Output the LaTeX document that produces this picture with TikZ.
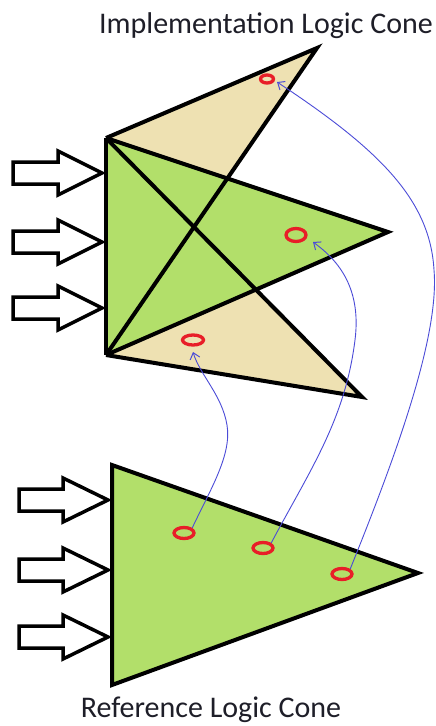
\documentclass[tikz,border=0pt]{standalone}
\usepackage{fontspec}
\setmainfont{Carlito}
\usetikzlibrary{shapes.geometric,arrows.meta}
\definecolor{conegreen}{RGB}{178,223,106}
\definecolor{conetan}{RGB}{238,225,178}
\definecolor{ringred}{RGB}{232,30,40}
\definecolor{linkblue}{RGB}{75,75,215}
\definecolor{textdark}{RGB}{30,30,40}
\tikzset{
  edge/.style={line width=4pt,draw=black,line join=miter},
  inarrow/.style={line width=3.5pt,draw=black,fill=white,line join=miter},
  ring/.style={ellipse,draw=ringred,line width=3.3pt,inner sep=0pt,minimum width=20pt,minimum height=11pt},
  link/.style={draw=linkblue,line width=0.9pt,-{Straight Barb[length=6pt,width=10pt,line width=1pt]}},
  title/.style={font=\fontsize{30}{35}\selectfont,text=textdark,anchor=base,inner sep=0pt}
}
\newcommand{\blockarrow}[4]{% x0, xhead, xtip, yc
  \draw[inarrow] (#1,#4-11) -- (#2,#4-11) -- (#2,#4-22) -- (#3,#4) -- (#2,#4+22) -- (#2,#4+11) -- (#1,#4+11) -- cycle;}
\begin{document}
\begin{tikzpicture}[x=1pt,y=-1pt]
\useasboundingbox (0,0) rectangle (436,726);
% upper cones
\coordinate (tl) at (106,138);
\coordinate (bl) at (106,355);
\coordinate (ta) at (317,48);
\coordinate (ga) at (388,232);
\coordinate (la) at (362,397);
\fill[conetan] (tl) -- (ta) -- (bl) -- cycle;
\fill[conetan] (tl) -- (la) -- (bl) -- cycle;
\fill[conegreen] (tl) -- (ga) -- (bl) -- cycle;
\draw[edge] (tl) -- (ta) -- (bl);
\draw[edge] (tl) -- (la) -- (bl);
\draw[edge] (tl) -- (ga) -- (bl);
\draw[edge] (tl) -- (bl);
% lower cone
\coordinate (rt) at (112,465);
\coordinate (rb) at (112,685);
\coordinate (ra) at (418,573);
\filldraw[edge,fill=conegreen] (rt) -- (ra) -- (rb) -- cycle;
% input arrows
\blockarrow{13}{58}{102}{173}
\blockarrow{13}{58}{102}{242}
\blockarrow{13}{58}{102}{308}
\blockarrow{19}{63}{108}{500}
\blockarrow{19}{63}{108}{570}
\blockarrow{19}{63}{108}{637}
% rings
\node[ring,minimum width=13pt,minimum height=8pt] (u1) at (267,79) {};
\node[ring,minimum height=13pt] (u2) at (296,235) {};
\node[ring,minimum width=21pt,minimum height=10pt] (u3) at (193,340) {};
\node[ring] (b1) at (184,533) {};
\node[ring] (b2) at (263,548) {};
\node[ring] (b3) at (342,574) {};
% arrow tips near upper rings
\coordinate (t1) at (277,82);
\coordinate (t2) at (313,242);
\coordinate (t3) at (193,352);
% links
\draw[link] (b1.north east) .. controls (210,490) and (232,455) .. (227,425)
            .. controls (222,395) and (200,375) .. (t3);
\draw[link] (b2.north east) .. controls (310,470) and (345,420) .. (355,340)
            .. controls (362,285) and (335,258) .. (t2);
\draw[link] (b3.north east) .. controls (390,470) and (440,340) .. (434,270)
            .. controls (430,200) and (380,150) .. (t1);
% titles
\node[title] (impltitle) at (266,33) {Implementation Logic Cone};
\node[title] (reftitle) at (211,717) {Reference Logic Cone};
\end{tikzpicture}
\end{document}
